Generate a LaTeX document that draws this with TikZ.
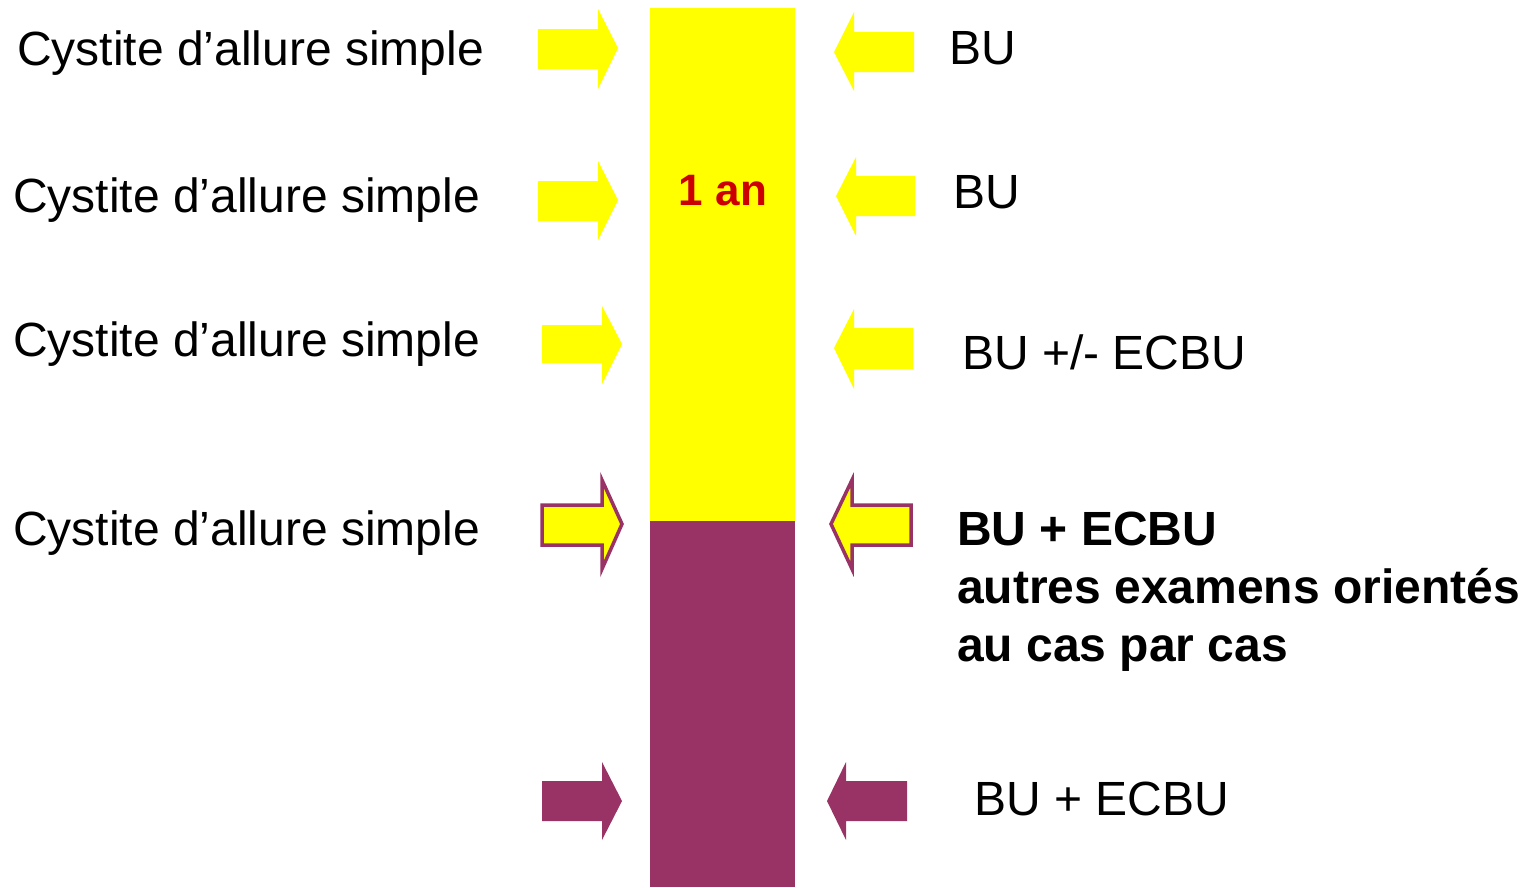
\documentclass[tikz,border=0pt]{standalone}
\usepackage{fontspec}
\setmainfont{Liberation Sans}
\definecolor{jaune}{RGB}{255,255,0}
\definecolor{prune}{RGB}{153,51,102}
\definecolor{rouge}{RGB}{204,0,0}
\begin{document}
\begin{tikzpicture}[x=1pt,y=-1pt,
  lbl/.style={anchor=base west,inner sep=0pt,font=\fontsize{48}{58}\selectfont},
  blbl/.style={lbl,font=\fontsize{48}{58}\selectfont\bfseries},
  yarrow/.style={fill=jaune,draw=none},
  parrow/.style={fill=prune,draw=none},
  oarrow/.style={fill=jaune,draw=prune,line width=3.5pt,line join=miter}]
\useasboundingbox (0,0) rectangle (1534,887);
% bar
\fill[jaune] (650,8) rectangle (795,521);
\fill[prune] (650,521) rectangle (795,887);
\node[anchor=base,inner sep=0pt,text=rouge,font=\fontsize{44}{50}\selectfont\bfseries] (an) at (723,205) {1 an};
% left texts
\node[lbl] (c1) at (17,65) {Cystite d’allure simple};
\node[lbl] (c2) at (13,212) {Cystite d’allure simple};
\node[lbl] (c3) at (13,356) {Cystite d’allure simple};
\node[lbl] (c4) at (13,545) {Cystite d’allure simple};
% right texts
\node[lbl] (r1) at (949,64) {BU};
\node[lbl] (r2) at (953,208) {BU};
\node[lbl] (r3) at (962,369) {BU +/- ECBU};
\node[blbl] (r4) at (957,545) {BU + ECBU};
\node[blbl] (r4b) at (957,603) {autres examens orientés};
\node[blbl] (r4c) at (957,661) {au cas par cas};
\node[lbl] (r5) at (974,815) {BU + ECBU};
% left arrows (pointing right)
\path[yarrow] (538,29) -- (598,29) -- (598,9) -- (618,48) -- (598,89) -- (598,69) -- (538,69) -- cycle;
\path[yarrow] (538,181) -- (598,181) -- (598,161) -- (618,200) -- (598,240) -- (598,221) -- (538,221) -- cycle;
\path[yarrow] (542,325) -- (602,325) -- (602,306) -- (622,344) -- (602,384) -- (602,363) -- (542,363) -- cycle;
\path[oarrow] (542,505) -- (602,505) -- (602,480) -- (622,524) -- (602,569) -- (602,545) -- (542,545) -- cycle;
\path[parrow] (542,781) -- (602,781) -- (602,762) -- (622,801) -- (602,840) -- (602,821) -- (542,821) -- cycle;
% right arrows (pointing left)
\path[yarrow] (914,32) -- (854,32) -- (854,12) -- (834,52) -- (854,91) -- (854,72) -- (914,72) -- cycle;
\path[yarrow] (915,176) -- (856,176) -- (856,157) -- (836,196) -- (856,236) -- (856,216) -- (915,216) -- cycle;
\path[yarrow] (913,328) -- (854,328) -- (854,309) -- (834,348) -- (854,389) -- (854,369) -- (913,369) -- cycle;
\path[oarrow] (911,505) -- (852,505) -- (852,480) -- (831,524) -- (852,569) -- (852,545) -- (911,545) -- cycle;
\path[parrow] (907,781) -- (846,781) -- (846,762) -- (827,801) -- (846,840) -- (846,821) -- (907,821) -- cycle;
\end{tikzpicture}
\end{document}
